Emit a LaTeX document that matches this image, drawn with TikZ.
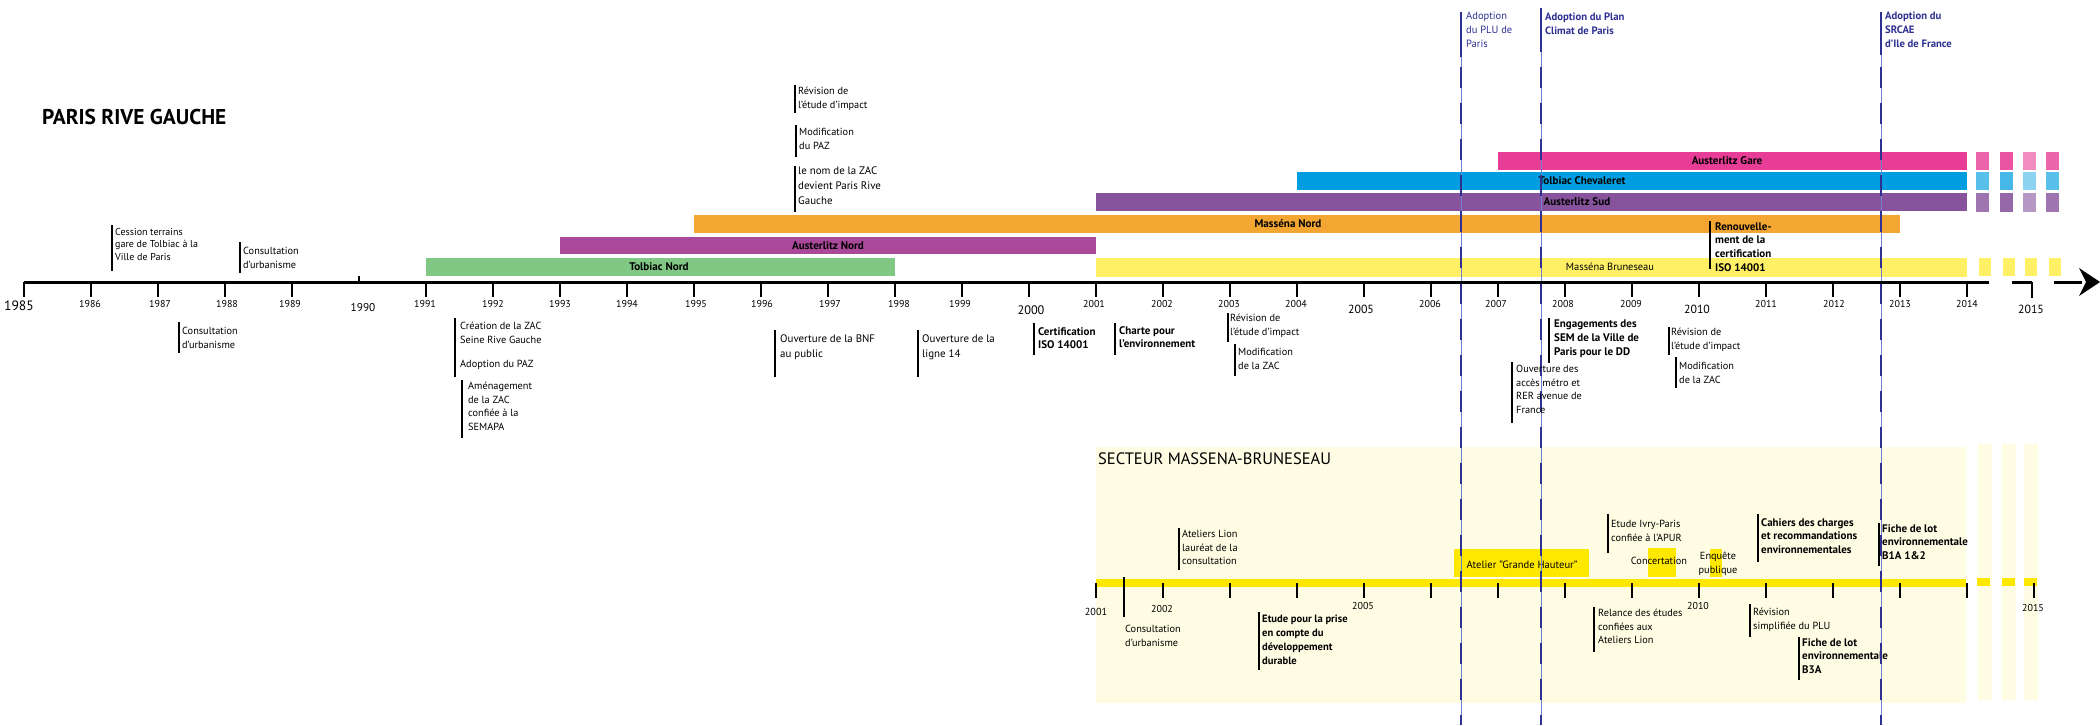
\documentclass[tikz,border=0pt]{standalone}
\usepackage{fontspec}
\setmainfont{PT Sans}
\definecolor{cgreen}{HTML}{80C883}
\definecolor{cnord}{HTML}{AA4899}
\definecolor{corange}{HTML}{F4A633}
\definecolor{csud}{HTML}{87539C}
\definecolor{cblue}{HTML}{009EE0}
\definecolor{cpink}{HTML}{E73D96}
\definecolor{cyel}{HTML}{FFF066}
\definecolor{cbright}{HTML}{FFE800}
\definecolor{cbg}{HTML}{FEFCE2}
\definecolor{dblue}{HTML}{2E3192}
\definecolor{lblue}{HTML}{7080D0}
\begin{document}
\begin{tikzpicture}[x=1pt,y=-1pt,
 evt/.style={anchor=north west, inner sep=0pt, align=left, font=\fontsize{10.3}{13.6}\selectfont},
 evtb/.style={anchor=north west, inner sep=0pt, align=left, font=\fontsize{11}{13.8}\selectfont\bfseries},
 evtl/.style={anchor=north west, inner sep=0pt, align=left, font=\fontsize{10.9}{15}\selectfont},
 evl/.style={line width=1.6pt, black},
 yr/.style={inner sep=0pt, font=\fontsize{10}{12}\selectfont},
 yrbig/.style={inner sep=0pt, font=\fontsize{11.8}{12}\selectfont},
 barlbl/.style={inner sep=0pt, font=\fontsize{11.1}{12}\selectfont\bfseries},
 axisline/.style={line width=3pt, black},
 tickline/.style={line width=1.5pt, black},
 bluethin/.style={line width=0.6pt, lblue},
 bluedash/.style={line width=2pt, dblue, dash pattern=on 21pt off 15pt},
 bluebar/.style={line width=2pt, dblue},
 bluetxt/.style={anchor=north west, inner sep=0pt, align=left, text=dblue, font=\fontsize{10.5}{14}\selectfont},
 bluetxtb/.style={anchor=north west, inner sep=0pt, align=left, text=dblue, font=\fontsize{10.7}{14}\selectfont\bfseries},
]
\useasboundingbox (0,0) rectangle (2100,725);
\fill[white] (0,0) rectangle (2100,725);

% ---------- lower section background ----------
\fill[cbg] (1096,447) rectangle (1966,703);
\fill[cbg] (1978,444) rectangle (1992,700);
\fill[cbg] (2002,444) rectangle (2016,700);
\fill[cbg] (2024,444) rectangle (2038,700);

% ---------- bars ----------
\fill[cpink] (1498,152) rectangle (1967,170);
\fill[cblue] (1297,172) rectangle (1967,190);
\fill[csud] (1096,193) rectangle (1967,211);
\fill[corange] (694,215) rectangle (1900,233);
\fill[cnord] (560,237) rectangle (1096,254);
\fill[cgreen] (426,258) rectangle (895,276);
\fill[cyel] (1096,258) rectangle (1967,277);
% continuation squares
\foreach \x/\o in {1976/0.8,2000/0.88,2023/0.6,2046/0.8}{
  \fill[cpink!\fpeval{100*\o}!white] (\x,152) rectangle (\x+13,170);
  \fill[cblue!\fpeval{100*\o-15}!white] (\x,172) rectangle (\x+13,190);
  \fill[csud!\fpeval{100*\o}!white] (\x,193) rectangle (\x+13,212);
}
\foreach \x in {1979,2003,2025,2049}{
  \fill[cyel] (\x,258) rectangle (\x+12,276);
}
\node[barlbl] (bgare) at (1727,161) {Austerlitz Gare};
\node[barlbl] (bchev) at (1582,181) {Tolbiac Chevaleret};
\node[barlbl] (bsud) at (1577,202) {Austerlitz Sud};
\node[barlbl] (bmn) at (1288,224) {Masséna Nord};
\node[barlbl] (ban) at (828,246) {Austerlitz Nord};
\node[barlbl] (btn) at (659,267) {Tolbiac Nord};
\node[inner sep=0pt, font=\fontsize{10.45}{12}\selectfont] (bmb) at (1610,267) {Masséna Bruneseau};

% ---------- lower yellow axis ----------
\fill[cbright] (1096,579) rectangle (1966,587);
\foreach \x in {1977,2002,2024}{\fill[cbright] (\x,578) rectangle (\x+13,586);}
\foreach \y in {2001,...,2015}{
  \draw[tickline] ({24+67*(\y-1985)},583) -- ({24+67*(\y-1985)},598);
}
\coordinate (lt1) at (1124,577); \coordinate (lt2) at (1124,617);
\draw[tickline] (lt1) -- (lt2);
\node[inner sep=0pt, font=\fontsize{10.2}{12}\selectfont] (l2001) at (1096,612) {2001};
\node[yr] (l2002) at (1162,609) {2002};
\node[yr] (l2005) at (1363,606) {2005};
\node[yr] (l2010) at (1698,606) {2010};
\node[yr] (l2015) at (2033,608) {2015};

\node[anchor=west, inner sep=0pt, font=\fontsize{16.5}{18}\selectfont] (secteur) at (1098,459) {SECTEUR MASSENA-BRUNESEAU};

% boxes
\fill[cbright] (1454,549) rectangle (1589,577);
\node[inner sep=0pt, font=\fontsize{10.6}{12}\selectfont] (atelier) at (1522,565) {Atelier "Grande Hauteur"};
\fill[cbright] (1648,548) rectangle (1676,577);
\node[inner sep=0pt, font=\fontsize{10.3}{12}\selectfont] (concert) at (1659,561) {Concertation};
\fill[cbright] (1710,549) rectangle (1722,577);
\node[anchor=north, inner sep=0pt, align=center, font=\fontsize{10.3}{13.5}\selectfont] (enquete) at (1718,552) {Enquête\\publique};

\node[evt] (lconsult) at (1125,625) {Consultation\\d'urbanisme};
\draw[evl] (1179,528) -- (1179,570);
\node[evt] (llion) at (1182,530) {Ateliers Lion\\lauréat de la\\consultation};
\draw[evl] (1259,612) -- (1259,670);
\node[evtb, font=\fontsize{10.6}{13.8}\selectfont\bfseries] (letude) at (1262,615) {Etude pour la prise\\en compte du\\développement\\durable};
\draw[evl] (1608,514) -- (1608,553);
\node[evt] (livry) at (1611,520) {Etude Ivry-Paris\\confiée à l'APUR};
\draw[evl] (1594,607) -- (1594,652);
\node[evt] (lrelance) at (1598,609) {Relance des études\\confiées aux\\Ateliers Lion};
\draw[evl] (1758,514) -- (1758,562);
\node[evtb] (lcahiers) at (1761,518) {Cahiers des charges\\et recommandations\\environnementales};
\draw[evl] (1879,523) -- (1879,566);
\node[evtb] (lb1a) at (1882,524) {Fiche de lot\\environnementale\\B1A 1\&2};
\draw[evl] (1750,604) -- (1750,637);
\node[evt] (lrevplu) at (1753,608) {Révision\\simplifiée du PLU};
\draw[evl] (1799,637) -- (1799,680);
\node[evtb] (lb3a) at (1802,638) {Fiche de lot\\environnementale\\B3A};

% ---------- blue vertical lines ----------
\foreach \n/\x/\t/\b in {plu/1461/12/57, climat/1541/8/52, srcae/1881/12/55}{
  \coordinate (\n a) at (\x,\t);
  \coordinate (\n b) at (\x,\b);
  \coordinate (\n c) at (\x,67);
  \coordinate (\n d) at (\x,725);
  \draw[bluethin] (\n a) -- (\n d);
  \draw[bluebar] (\n a) -- (\n b);
  \draw[bluedash] (\n c) -- (\n d);
}
\node[bluetxt] (tplu) at (1466,12) {Adoption\\du PLU de\\Paris};
\node[bluetxtb] (tclimat) at (1545,13) {Adoption du Plan\\Climat de Paris};
\node[bluetxtb] (tsrcae) at (1885,12) {Adoption du\\SRCAE\\d'Ile de France};

% ---------- main axis ----------
\coordinate (ax0) at (24,282); \coordinate (ax1) at (1989,282);
\draw[axisline] (ax0) -- (ax1);
\coordinate (ax2) at (2012,282); \coordinate (ax3) at (2032,282);
\draw[axisline] (ax2) -- (ax3);
\coordinate (ax4) at (2054,282); \coordinate (ax5) at (2082,282);
\draw[axisline] (ax4) -- (ax5);
\fill[black] (2079,268) -- (2100,282) -- (2079,296) -- (2086,282) -- cycle;
\foreach \y in {1985,...,1989,1991,1992,...,2014}{
  \draw[tickline] ({24+67*(\y-1985)},282) -- ({24+67*(\y-1985)},297);
}
\draw[tickline] (359,276) -- (359,282);
\draw[tickline] (2032,282) -- (2032,298);
\foreach \y/\x in {1986/90,1987/160,1988/227,1989/290,1991/425,1992/493,1993/560,1994/627,1995/696,1996/762,1997/830,1998/899,1999/960,2001/1094,2002/1162,2003/1229,2004/1296,2006/1430,2007/1496,2008/1563,2009/1631,2011/1766,2012/1834,2013/1900,2014/1967}{
  \node[yr] (y\y) at (\x,304) {\y};
}
\node[inner sep=0pt, font=\fontsize{11.3}{12}\selectfont] (y1990) at (363,308) {1990};
\node[inner sep=0pt, font=\fontsize{12.3}{12}\selectfont] (y2000) at (1031,310) {2000};
\foreach \y/\x in {2005/1361,2010/1697,2015/2031}{
  \node[yrbig] (y\y) at (\x,309) {\y};
}
\node[inner sep=0pt, font=\fontsize{13.6}{14}\selectfont] (y1985) at (19,306) {1985};

\node[anchor=west, inner sep=0pt, font=\fontsize{21.4}{22}\selectfont\bfseries] (title) at (42,117) {PARIS RIVE GAUCHE};

% ---------- events above main axis ----------
\draw[evl] (112,225) -- (112,271);
\node[evt, font=\fontsize{10}{12.4}\selectfont] (e1) at (115,228) {Cession terrains\\gare de Tolbiac à la\\Ville de Paris};
\draw[evl] (240,242) -- (240,273);
\node[evt] (e2) at (243,247) {Consultation\\d'urbanisme};
\draw[evl] (795,85) -- (795,113);
\node[evt] (e6) at (798,87) {Révision de\\l'étude d'impact};
\draw[evl] (796,125) -- (796,157);
\node[evt] (e7) at (799,128) {Modification\\du PAZ};
\draw[evl] (795,166) -- (795,212);
\node[evtl] (e8) at (798,167) {le nom de la ZAC\\devient Paris Rive\\Gauche};
\draw[evl] (1710,221) -- (1710,269);
\node[evtb] (e19) at (1715,222) {Renouvelle-\\ment de la\\certification\\ISO 14001};

% ---------- events below main axis ----------
\draw[evl] (179,322) -- (179,353);
\node[evt] (e3) at (182,327) {Consultation\\d'urbanisme};
\draw[evl] (455,318) -- (455,377);
\node[evt] (e4) at (460,322) {Création de la ZAC\\Seine Rive Gauche};
\node[evt] (e4b) at (460,360) {Adoption du PAZ};
\draw[evl] (462,380) -- (462,438);
\node[evt] (e5) at (468,382) {Aménagement\\de la ZAC\\confiée à la\\SEMAPA};
\draw[evl] (775,330) -- (775,377);
\node[evtl] (e9) at (780,335) {Ouverture de la BNF\\au public};
\draw[evl] (918,330) -- (918,377);
\node[evtl] (e10) at (922,335) {Ouverture de la\\ligne 14};
\draw[evl] (1034,323) -- (1034,355);
\node[evtb] (e11) at (1038,327) {Certification\\ISO 14001};
\draw[evl] (1115,323) -- (1115,355);
\node[evtb] (e12) at (1119,326) {Charte pour\\l'environnement};
\draw[evl] (1228,313) -- (1228,342);
\node[evt] (e13) at (1230,314) {Révision de\\l'étude d'impact};
\draw[evl] (1235,344) -- (1235,376);
\node[evt] (e14) at (1238,348) {Modification\\de la ZAC};
\draw[evl] (1549,318) -- (1549,363);
\node[evtb] (e15) at (1554,320) {Engagements des\\SEM de la Ville de\\Paris pour le DD};
\draw[evl] (1512,362) -- (1512,423);
\node[evt] (e16) at (1516,365) {Ouverture des\\accès métro et\\RER avenue de\\France};
\draw[evl] (1669,327) -- (1669,355);
\node[evt] (e17) at (1671,328) {Révision de\\l'étude d'impact};
\draw[evl] (1676,357) -- (1676,388);
\node[evt] (e18) at (1679,362) {Modification\\de la ZAC};
\end{tikzpicture}
\end{document}
